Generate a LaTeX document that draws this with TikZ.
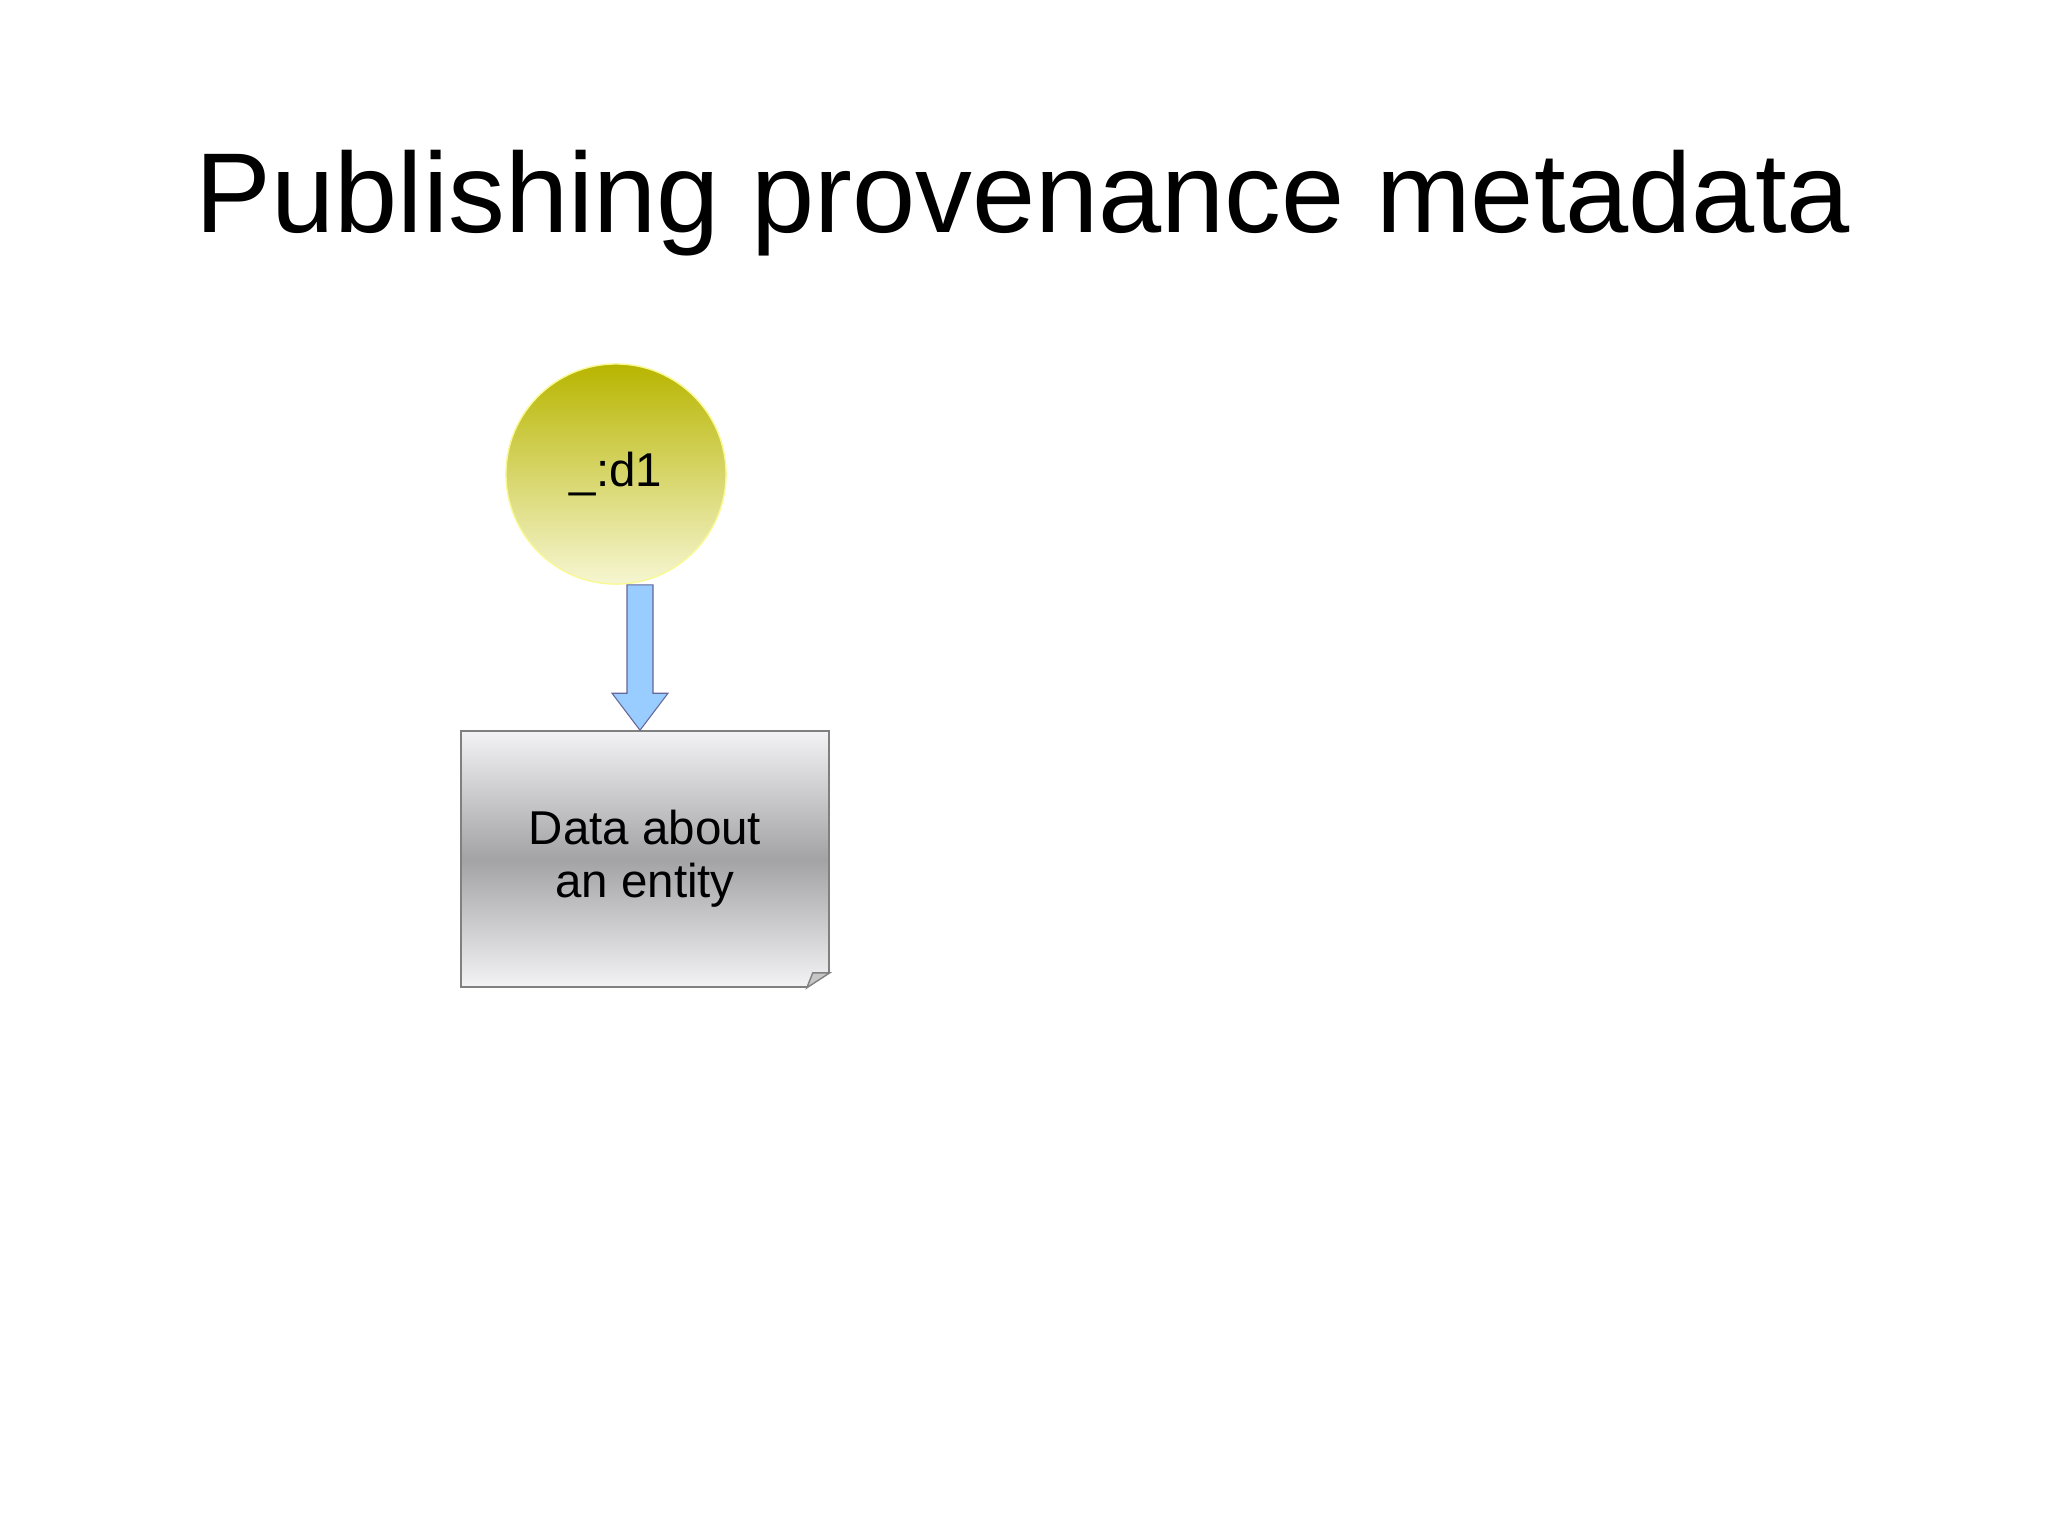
\documentclass[tikz,border=0pt]{standalone}
\usepackage{fontspec}
\setmainfont{Liberation Sans}
\usepackage{tikz}
\usetikzlibrary{calc}
\definecolor{OliveTop}{HTML}{B8B500}
\definecolor{OliveBot}{HTML}{F6F6D2}
\definecolor{ArrowBlue}{HTML}{99CCFF}
\definecolor{BoxMid}{HTML}{A3A3A5}
\definecolor{BoxLight}{HTML}{F3F3F5}

\begin{document}
\begin{tikzpicture}[x=0.01cm,y=-0.01cm,
    blank/.style={circle,minimum size=2.2cm,inner sep=0pt,shading=axis,
      top color=OliveTop,bottom color=OliveBot,draw=OliveBot!70!yellow,
      font=\fontsize{13.5}{16}\selectfont},
    docbox/.style={rectangle,minimum width=3.68cm,minimum height=2.56cm,
      shading=axis,top color=BoxLight,bottom color=BoxLight,middle color=BoxMid,
      draw=gray,align=center,font=\fontsize{13.5}{15}\selectfont},
    fatarrow/.style={fill=ArrowBlue,draw=gray!80!blue,line width=0.3pt}]
        % page
        \useasboundingbox (0,0) rectangle (2048,1535);
        \fill[white] (0,0) rectangle (2048,1535);
        \node[font=\fontsize{32.3}{38}\selectfont,anchor=base] (title) at (1023,232) {Publishing provenance metadata};
        % resource and its data
        \node[blank] (d1) at (616,474) {\_:d1};
        \node[docbox] (data) at (645,859) {Data about\\an entity};
        % folded corner
        \fill[white] (data.south east) -- ($(data.south east)+(-24,0.5)$) -- ($(data.south east)+(0.5,-16)$) -- cycle;
        \filldraw[fill=gray!45,draw=gray] ($(data.south east)+(-23,0)$) -- ($(data.south east)+(0,-15)$) -- ($(data.south east)+(-17,-15)$) -- cycle;
        % published arrow
        \coordinate (ax) at (640,0);
        \filldraw[fatarrow] ($(d1.south -| ax)+(-13,0)$) -- ($(d1.south -| ax)+(13,0)$)
          -- ($(data.north -| ax)+(13,-37)$) -- ($(data.north -| ax)+(28,-37)$)
          -- (data.north -| ax) -- ($(data.north -| ax)+(-28,-37)$)
          -- ($(data.north -| ax)+(-13,-37)$) -- cycle;
      \end{tikzpicture}
\end{document}
